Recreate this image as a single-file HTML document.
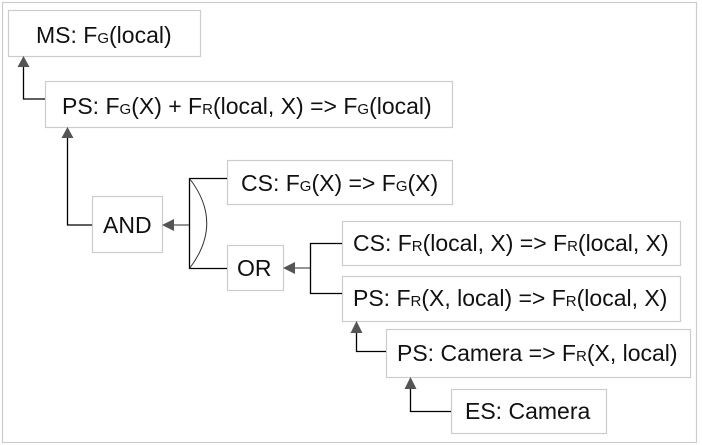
<!DOCTYPE html>
<html><head><style>
html,body{margin:0;padding:0;background:#fff;}
svg{display:block;}
text{font-family:"Liberation Sans",Arial,sans-serif;font-size:23px;fill:#111;dominant-baseline:central;}
.s{font-size:15px;}
.b{fill:#fff;stroke:#ccc;stroke-width:1.2;}
.l{stroke:#000;stroke-width:1.3;fill:none;}
.a{fill:#555;}
</style></head><body>
<svg width="702" height="445" viewBox="0 0 702 445">
<rect x="2.5" y="2.5" width="694" height="440" fill="#fff" stroke="#ccc" stroke-width="1.2"/>
<rect class="b" x="8.5" y="10.5" width="192" height="46"/>
<text x="36" y="35">MS: F<tspan class="s" dy="3">G</tspan><tspan dy="-3">(local)</tspan></text>
<rect class="b" x="45.5" y="81.5" width="407" height="46"/>
<text x="62" y="106">PS: F<tspan class="s" dy="3">G</tspan><tspan dy="-3">(X) + F</tspan><tspan class="s" dy="3">R</tspan><tspan dy="-3">(local, X) =&gt; F</tspan><tspan class="s" dy="3">G</tspan><tspan dy="-3">(local)</tspan></text>
<rect class="b" x="92.5" y="196.5" width="70" height="56"/>
<text x="103" y="225">AND</text>
<rect class="b" x="227.5" y="160.5" width="225" height="44"/>
<text x="241" y="183">CS: F<tspan class="s" dy="3">G</tspan><tspan dy="-3">(X) =&gt; F</tspan><tspan class="s" dy="3">G</tspan><tspan dy="-3">(X)</tspan></text>
<rect class="b" x="227.5" y="245.5" width="56" height="45"/>
<text x="237" y="268">OR</text>
<rect class="b" x="342.5" y="221.5" width="338" height="44"/>
<text x="353" y="243">CS: F<tspan class="s" dy="3">R</tspan><tspan dy="-3">(local, X) =&gt; F</tspan><tspan class="s" dy="3">R</tspan><tspan dy="-3">(local, X)</tspan></text>
<rect class="b" x="342.5" y="276.5" width="338" height="45"/>
<text x="353" y="298">PS: F<tspan class="s" dy="3">R</tspan><tspan dy="-3">(X, local) =&gt; F</tspan><tspan class="s" dy="3">R</tspan><tspan dy="-3">(local, X)</tspan></text>
<rect class="b" x="386.5" y="329.5" width="304" height="48"/>
<text x="397" y="353">PS: Camera =&gt; F<tspan class="s" dy="3">R</tspan><tspan dy="-3">(X, local)</tspan></text>
<rect class="b" x="451.5" y="389.5" width="155" height="44"/>
<text x="465" y="411">ES: Camera</text>
<polyline class="l" points="45,99 23.5,99 23.5,64"/>
<polygon class="a" points="23.5,56 17.5,67 29.5,67"/>
<polyline class="l" points="92,225 67.5,225 67.5,135"/>
<polygon class="a" points="67.5,127 61.5,138 73.5,138"/>
<polyline class="l" points="227,178.5 189.5,178.5 189.5,268.5 227,268.5"/>
<path d="M189.5,178.5 Q224,223 189.5,268.5" fill="none" stroke="#333" stroke-width="1"/>
<line class="l" x1="189" y1="225" x2="172" y2="225" style="stroke:#555"/>
<polygon class="a" points="162,225 174,219 174,231"/>
<polyline class="l" points="342,243.5 310.5,243.5 310.5,293.5 342,293.5"/>
<line class="l" x1="310" y1="268" x2="292" y2="268" style="stroke:#555"/>
<polygon class="a" points="283,268 295,262 295,274"/>
<polyline class="l" points="386,351.5 356.5,351.5 356.5,330"/>
<polygon class="a" points="356.5,321 350.5,333 362.5,333"/>
<polyline class="l" points="451,411.5 410.5,411.5 410.5,386"/>
<polygon class="a" points="410.5,377 404.5,389 416.5,389"/>
</svg>
</body></html>
